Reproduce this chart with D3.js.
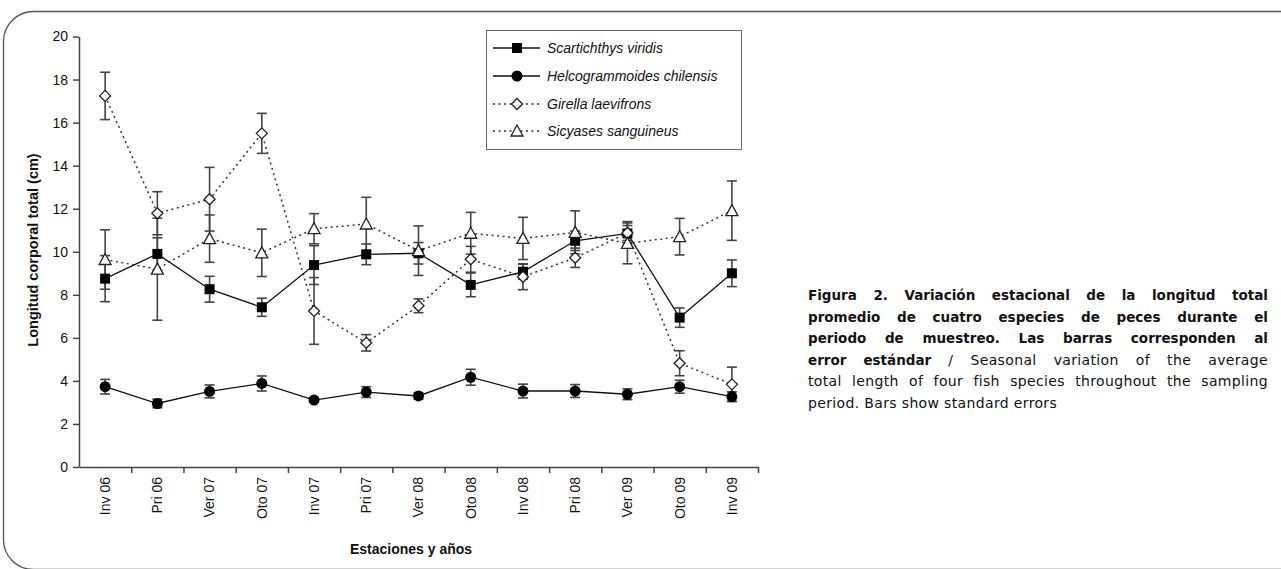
<!DOCTYPE html>
<html>
<head>
<meta charset="utf-8">
<script src="https://cdn.jsdelivr.net/npm/d3@7"></script>
<style>
  html, body { margin: 0; padding: 0; background: #fff; }
  body { width: 1281px; height: 569px; position: relative; overflow: hidden; }
  #caption {
    position: absolute; left: 808px; top: 285px; width: 460px;
    font-family: "DejaVu Sans", sans-serif; font-size: 13.5px;
    line-height: 21.5px; color: #111;
  }
  #caption div { text-align: justify; text-align-last: justify; white-space: nowrap; }
  #caption div.last { text-align-last: left; }
  #caption b { font-weight: bold; }
  #caption span { font-size: 14px; letter-spacing: 0.35px; }
</style>
</head>
<body>
<svg id="chart" width="1281" height="569"></svg>
<div id="caption"></div>
<script>
// seasons
var seasons = ["Inv 06", "Pri 06", "Ver 07", "Oto 07", "Inv 07", "Pri 07", "Ver 08",
               "Oto 08", "Inv 08", "Pri 08", "Ver 09", "Oto 09", "Inv 09"];

// mean total length (cm) and standard error per species
var scartichthys = [8.75, 9.90, 8.26, 7.42, 9.38, 9.88, 9.93, 8.46, 9.07, 10.51, 10.85, 6.94, 9.00];
var scartichthysSE = [1.07, 0.75, 0.60, 0.42, 0.90, 0.48, 0.50, 0.55, 0.35, 0.45, 0.55, 0.45, 0.62];

var helcogrammoides = [3.73, 2.95, 3.51, 3.88, 3.11, 3.48, 3.30, 4.17, 3.53, 3.53, 3.38, 3.73, 3.27];
var helcogrammoidesSE = [0.34, 0.20, 0.30, 0.35, 0.10, 0.25, 0.15, 0.37, 0.32, 0.30, 0.25, 0.30, 0.22];

var girella = [17.24, 11.79, 12.44, 15.50, 7.25, 5.77, 7.49, 9.65, 8.84, 9.72, 10.87, 4.82, 3.84];
var girellaSE = [1.10, 1.00, 1.48, 0.93, 1.55, 0.38, 0.32, 0.60, 0.60, 0.45, 0.35, 0.58, 0.80];

var sicyases = [9.64, 9.19, 10.61, 9.95, 11.07, 11.29, 10.05, 10.86, 10.62, 10.90, 10.39, 10.70, 11.91];
var sicyasesSE = [1.38, 2.37, 1.10, 1.10, 0.70, 1.24, 1.15, 0.97, 0.98, 1.00, 0.95, 0.85, 1.38];

var yTicks = [0, 2, 4, 6, 8, 10, 12, 14, 16, 18, 20];

var species = [
  {name: "Scartichthys viridis", mean: scartichthys, se: scartichthysSE, marker: "square", dotted: false},
  {name: "Helcogrammoides chilensis", mean: helcogrammoides, se: helcogrammoidesSE, marker: "circle", dotted: false},
  {name: "Girella laevifrons", mean: girella, se: girellaSE, marker: "diamond", dotted: true},
  {name: "Sicyases sanguineus", mean: sicyases, se: sicyasesSE, marker: "triangle", dotted: true}
];

var captionLines = [
  ["Figura 2. Variación estacional de la longitud total", ""],
  ["promedio de cuatro especies de peces durante el", ""],
  ["periodo de muestreo. Las barras corresponden al", ""],
  ["error estándar", " / Seasonal variation of the average"],
  ["", "total length of four fish species throughout the sampling"],
  ["", "period. Bars show standard errors"]
];

var svg = d3.select("#chart");

// rounded frame
svg.append("rect")
  .attr("x", 3.5).attr("y", 11.5)
  .attr("width", 1320).attr("height", 558)
  .attr("rx", 30).attr("ry", 30)
  .attr("fill", "none").attr("stroke", "#555").attr("stroke-width", 1.3);

var x = d3.scaleBand().domain(seasons).range([79, 758]);
var xc = function(i) { return x(seasons[i]) + x.bandwidth() / 2; };
var y = d3.scaleLinear().domain([0, 20]).range([467, 36.5]);

var axisColor = "#444";

// y axis
var gy = svg.append("g").attr("transform", "translate(79,0)")
  .call(d3.axisLeft(y).tickValues(yTicks).tickSize(6).tickSizeOuter(0).tickPadding(5));
gy.select(".domain").attr("stroke", axisColor).attr("stroke-width", 1.5);
gy.selectAll(".tick line").attr("stroke", axisColor).attr("stroke-width", 1.5);
gy.selectAll(".tick text").attr("font-family", "Liberation Sans, Arial, sans-serif")
  .attr("font-size", 14).attr("fill", "#111");

// x axis: ticks at band boundaries
var xb = d3.scaleLinear().domain([0, seasons.length]).range([79, 758]);
var gx = svg.append("g").attr("transform", "translate(0,467)")
  .call(d3.axisBottom(xb).tickValues(d3.range(1, seasons.length + 1)).tickSize(6).tickSizeOuter(0).tickFormat(""));
gx.select(".domain").attr("stroke", axisColor).attr("stroke-width", 1.5);
gx.selectAll(".tick line").attr("stroke", axisColor).attr("stroke-width", 1.5);

svg.append("g").selectAll("text").data(seasons).join("text")
  .attr("transform", function(d, i) { return "translate(" + xc(i) + ",477) rotate(-90)"; })
  .attr("text-anchor", "end").attr("dy", "0.35em")
  .attr("font-family", "Liberation Sans, Arial, sans-serif").attr("font-size", 14).attr("fill", "#111")
  .text(function(d) { return d; });

// axis titles
svg.append("text")
  .attr("transform", "translate(38,250) rotate(-90)")
  .attr("text-anchor", "middle")
  .attr("font-family", "Liberation Sans, Arial, sans-serif").attr("font-size", 14.5).attr("font-weight", "bold")
  .attr("fill", "#111")
  .text("Longitud corporal total (cm)");

svg.append("text")
  .attr("x", 411).attr("y", 554)
  .attr("text-anchor", "middle")
  .attr("font-family", "Liberation Sans, Arial, sans-serif").attr("font-size", 14).attr("font-weight", "bold")
  .attr("fill", "#111")
  .text("Estaciones y años");

// marker drawing
function drawMarker(g, type, cx, cy) {
  if (type === "square") {
    g.append("rect").attr("x", cx - 5).attr("y", cy - 5).attr("width", 10).attr("height", 10).attr("fill", "#000");
  } else if (type === "circle") {
    g.append("circle").attr("cx", cx).attr("cy", cy).attr("r", 5.5).attr("fill", "#000");
  } else if (type === "diamond") {
    g.append("path").attr("d", "M" + cx + "," + (cy - 5.5) + "L" + (cx + 5.5) + "," + cy + "L" + cx + "," + (cy + 5.5) + "L" + (cx - 5.5) + "," + cy + "Z")
      .attr("fill", "#fff").attr("stroke", "#222").attr("stroke-width", 1.3);
  } else {
    g.append("path").attr("d", "M" + cx + "," + (cy - 6) + "L" + (cx + 6) + "," + (cy + 5) + "L" + (cx - 6) + "," + (cy + 5) + "Z")
      .attr("fill", "#fff").attr("stroke", "#222").attr("stroke-width", 1.3);
  }
}

// error bars
var gErr = svg.append("g");
species.forEach(function(s) {
  s.mean.forEach(function(v, i) {
    var e = s.se[i], cx = xc(i);
    gErr.append("line").attr("x1", cx).attr("x2", cx).attr("y1", y(v + e)).attr("y2", y(v - e))
      .attr("stroke", "#444").attr("stroke-width", 1.6);
    [v + e, v - e].forEach(function(w) {
      gErr.append("line").attr("x1", cx - 5).attr("x2", cx + 5).attr("y1", y(w)).attr("y2", y(w))
        .attr("stroke", "#444").attr("stroke-width", 1.6);
    });
  });
});

// lines
var line = d3.line().x(function(d, i) { return xc(i); }).y(function(d) { return y(d); });
species.forEach(function(s) {
  svg.append("path").datum(s.mean).attr("d", line).attr("fill", "none")
    .attr("stroke", s.dotted ? "#333" : "#111")
    .attr("stroke-width", s.dotted ? 1.5 : 1.3)
    .attr("stroke-dasharray", s.dotted ? "2,3.5" : null);
});

// markers
species.forEach(function(s) {
  var g = svg.append("g");
  s.mean.forEach(function(v, i) { drawMarker(g, s.marker, xc(i), y(v)); });
});

// legend
var lg = svg.append("g");
lg.append("rect").attr("x", 486.5).attr("y", 30.5).attr("width", 255).attr("height", 119)
  .attr("fill", "#fff").attr("stroke", "#666").attr("stroke-width", 1);
var legendY = [48, 76, 104, 131];
species.forEach(function(s, k) {
  var ly = legendY[k];
  lg.append("line").attr("x1", 493).attr("x2", 540).attr("y1", ly).attr("y2", ly)
    .attr("stroke", s.dotted ? "#333" : "#111").attr("stroke-width", s.dotted ? 1.5 : 1.3)
    .attr("stroke-dasharray", s.dotted ? "2,3.5" : null);
  drawMarker(lg, s.marker, 517, ly);
  lg.append("text").attr("x", 547).attr("y", ly).attr("dy", "0.35em")
    .attr("font-family", "Liberation Sans, Arial, sans-serif").attr("font-size", 14)
    .attr("font-style", "italic").attr("fill", "#111")
    .text(s.name);
});

// caption
var cap = d3.select("#caption");
captionLines.forEach(function(l, i) {
  var d = cap.append("div");
  if (i === captionLines.length - 1) d.attr("class", "last");
  if (l[0]) d.append("b").text(l[0]);
  if (l[1]) d.append("span").text(l[1]);
});
</script>
</body>
</html>
